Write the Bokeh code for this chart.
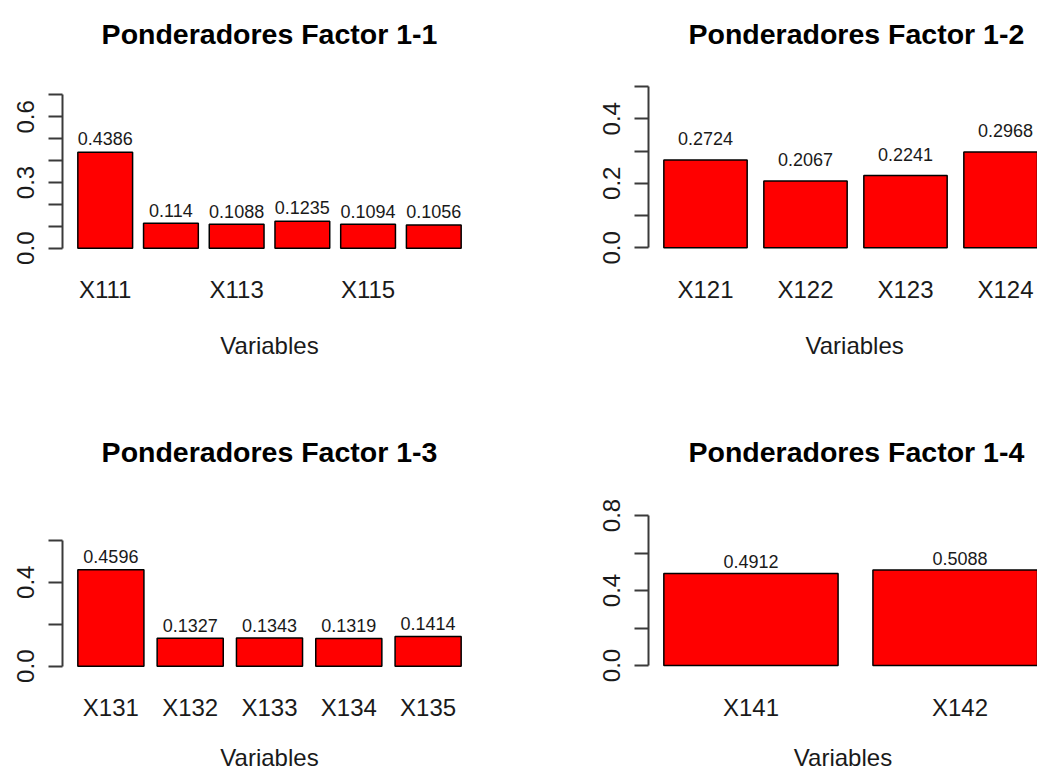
from bokeh.plotting import figure
from bokeh.models import (Range1d, LinearAxis, FixedTicker, LabelSet,
                          ColumnDataSource, Title)
from bokeh.core.properties import value
from bokeh.layouts import row, column
from bokeh.embed import file_html
from bokeh.resources import INLINE

# ---------------- data ----------------
titles = ["Ponderadores Factor 1-1", "Ponderadores Factor 1-2",
          "Ponderadores Factor 1-3", "Ponderadores Factor 1-4"]
xlabel = "Variables"

names_11 = ["X111", "X112", "X113", "X114", "X115", "X116"]
values_11 = [0.4386, 0.114, 0.1088, 0.1235, 0.1094, 0.1056]
shown_11 = ["X111", "X113", "X115"]
yticks_11 = [0.0, 0.1, 0.2, 0.3, 0.4, 0.5, 0.6, 0.7]
ylabels_11 = ["0.0", "", "", "0.3", "", "", "0.6", ""]

names_12 = ["X121", "X122", "X123", "X124"]
values_12 = [0.2724, 0.2067, 0.2241, 0.2968]
shown_12 = ["X121", "X122", "X123", "X124"]
yticks_12 = [0.0, 0.1, 0.2, 0.3, 0.4, 0.5]
ylabels_12 = ["0.0", "", "0.2", "", "0.4", ""]

names_13 = ["X131", "X132", "X133", "X134", "X135"]
values_13 = [0.4596, 0.1327, 0.1343, 0.1319, 0.1414]
shown_13 = ["X131", "X132", "X133", "X134", "X135"]
yticks_13 = [0.0, 0.2, 0.4, 0.6]
ylabels_13 = ["0.0", "", "0.4", ""]

names_14 = ["X141", "X142"]
values_14 = [0.4912, 0.5088]
shown_14 = ["X141", "X142"]
yticks_14 = [0.0, 0.2, 0.4, 0.6, 0.8]
ylabels_14 = ["0.0", "", "0.4", "", "0.8"]

# y limits of each panel (axis range)
ylims = [(-0.0288, 0.8388), (-0.0208, 0.5682), (-0.030, 0.8748), (-0.0373, 0.976)]
# distance (px) between bar top and its value label
label_gap = [6.7, 15.0, 6.3, 5.3]

# ---------------- styling ----------------
FONT = "Liberation Sans"
AXC = "#3a3a3a"
FRAME_W_FULL = 414          # full plot-region width of the original layout


def make_panel(title, names, values, shown, yticks, ylabels, ylim, gap, col, rw):
    n = len(names)
    # barplot geometry: bar width 1, gap 0.2 (centres at index i, width 1/1.2)
    span0 = 1.2 * n - 0.2
    r_start = 0.2 - 0.04 * span0
    r_end = 1.2 * n + 0.04 * span0
    xs = (r_start - 0.7) / 1.2
    xe_full = (r_end - 0.7) / 1.2

    if col == 0:
        width, mbl, mbr = 568, 62, 92
        xe = xe_full
    else:
        width, mbl, mbr = 469, 80, 0
        xe = xs + (xe_full - xs) * 389 / FRAME_W_FULL
    if rw == 0:
        height, mbt, mbb = 418, 64, 164
    else:
        height, mbt, mbb = 355, 64, 101

    p = figure(width=width, height=height,
               x_range=Range1d(xs, xe), y_range=Range1d(*ylim),
               x_axis_type=None, y_axis_type=None,
               output_backend="svg", toolbar_location=None,
               min_border_left=mbl, min_border_right=mbr,
               min_border_top=mbt, min_border_bottom=mbb)
    p.outline_line_color = None
    p.background_fill_color = "white"
    p.border_fill_color = "white"

    p.title.text = title
    if col == 0:
        p.title.align = "center"
    else:
        p.title.align = "left"
        p.title.offset = 40
    p.title.vertical_align = "middle"
    p.title.standoff = 28
    p.title.text_font = FONT
    p.title.text_font_size = "28.5px"
    p.title.text_font_style = "bold"
    p.title.text_color = "#000000"

    idx = list(range(n))
    src = ColumnDataSource(dict(x=idx, top=values, txt=[str(v) for v in values]))
    p.vbar(x="x", top="top", bottom=0, width=1 / 1.2, source=src,
           fill_color="#FF0000", line_color="#000000", line_width=1.5)
    p.add_layout(LabelSet(x="x", y="top", text="txt", source=src,
                          text_align="center", text_baseline="alphabetic",
                          y_offset=gap, text_font=value(FONT),
                          text_font_size=value("18px"),
                          text_color="#1a1a1a"))

    # y axis
    yaxis = LinearAxis(ticker=FixedTicker(ticks=yticks, minor_ticks=[]),
                       bounds=(yticks[0], yticks[-1]),
                       major_label_overrides={t: l for t, l in zip(yticks, ylabels)},
                       major_label_orientation="vertical",
                       major_label_standoff=14,
                       major_label_text_font=FONT,
                       major_label_text_font_size="24px",
                       major_label_text_color="#1a1a1a",
                       axis_line_color=AXC, axis_line_width=2,
                       major_tick_line_color=AXC, major_tick_line_width=2,
                       major_tick_out=14, major_tick_in=0,
                       minor_tick_line_color=None)
    p.add_layout(yaxis, "left")

    # x axis (category names)
    shown_idx = [names.index(s) for s in shown]
    xaxis = LinearAxis(ticker=FixedTicker(ticks=shown_idx, minor_ticks=[]),
                       major_label_overrides={i: names[i] for i in shown_idx},
                       major_label_standoff=21,
                       major_label_text_font=FONT,
                       major_label_text_font_size="24px",
                       major_label_text_color="#1a1a1a",
                       axis_label_text_font=FONT,
                       axis_label_text_font_size="24px",
                       axis_label_text_font_style="normal",
                       axis_label_text_color="#1a1a1a",
                       axis_line_color=None, major_tick_line_color=None,
                       minor_tick_line_color=None,
                       major_tick_out=0, major_tick_in=0)
    p.add_layout(xaxis, "below")

    # x-axis title
    if col == 1 and rw == 0:
        # centred under the full (partly off-page) plot region
        p.add_layout(Title(text=xlabel, align="left", offset=157,
                           vertical_align="top", standoff=52,
                           text_font=FONT, text_font_size="24px",
                           text_font_style="normal", text_color="#1a1a1a"),
                     "below")
    else:
        xaxis.axis_label = xlabel
        xaxis.axis_label_standoff = 26 if rw == 0 else 20
    return p


p1 = make_panel(titles[0], names_11, values_11, shown_11, yticks_11, ylabels_11,
                ylims[0], label_gap[0], 0, 0)
p2 = make_panel(titles[1], names_12, values_12, shown_12, yticks_12, ylabels_12,
                ylims[1], label_gap[1], 1, 0)
p3 = make_panel(titles[2], names_13, values_13, shown_13, yticks_13, ylabels_13,
                ylims[2], label_gap[2], 0, 1)
p4 = make_panel(titles[3], names_14, values_14, shown_14, yticks_14, ylabels_14,
                ylims[3], label_gap[3], 1, 1)

layout = column(row(p1, p2, spacing=0), row(p3, p4, spacing=0), spacing=0)

open("out.html", "w").write(file_html(layout, INLINE))
